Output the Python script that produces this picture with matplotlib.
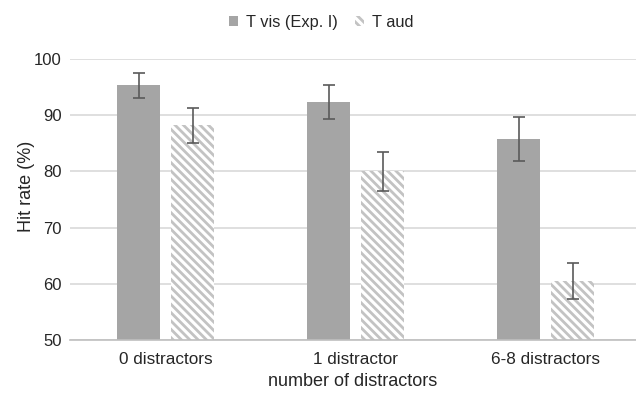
import matplotlib
matplotlib.use("Agg")
import matplotlib.pyplot as plt
import numpy as np

plt.rcParams['font.family'] = ['Liberation Sans', 'DejaVu Sans']
plt.rcParams['hatch.linewidth'] = 2.0

categories = ["0 distractors", "1 distractor", "6-8 distractors"]
series_names = ["T vis (Exp. I)", "T aud"]
vis_values = [95.3, 92.4, 85.8]
vis_errors = [2.2, 3.0, 3.9]
aud_values = [88.2, 80.0, 60.5]
aud_errors = [3.1, 3.4, 3.2]
yticks = [50, 60, 70, 80, 90, 100]

fig = plt.figure(figsize=(6.36, 3.93), dpi=100)
ax = fig.add_axes([70/636, 1 - 340/393, 566/636, 281/393])

x = np.arange(len(categories))
w = 0.226
off = 0.142
ax.bar(x - off, vis_values, w, color='#a5a5a5', label=series_names[0], zorder=2)
ax.bar(x + off, aud_values, w, color='white', edgecolor='#c3c3c3', linewidth=0,
       hatch='\\\\\\\\', label=series_names[1], zorder=2)
ax.errorbar(x - off, vis_values, yerr=vis_errors, fmt='none', ecolor='#5a5a5a',
            elinewidth=1.2, capsize=4, capthick=1.2, zorder=3)
ax.errorbar(x + off, aud_values, yerr=aud_errors, fmt='none', ecolor='#5a5a5a',
            elinewidth=1.2, capsize=4, capthick=1.2, zorder=3)

ax.set_ylim(50, 100)
ax.set_xlim(-0.503, 2.474)
ax.set_yticks(yticks)
ax.set_xticks(x)
ax.set_xticklabels(categories)
ax.yaxis.grid(True, color='#d9d9d9', linewidth=1.2, zorder=0)
ax.set_axisbelow(True)
for s in ['top', 'right', 'left']:
    ax.spines[s].set_visible(False)
ax.spines['bottom'].set_color('#bfbfbf')
ax.spines['bottom'].set_linewidth(1.2)
ax.tick_params(axis='y', length=0, labelsize=12, colors='#262626', pad=6)
ax.tick_params(axis='x', length=0, labelsize=12.3, colors='#262626', pad=9)
ax.set_xlabel("number of distractors", fontsize=13, color='#262626', labelpad=4)
ax.set_ylabel("Hit rate (%)", fontsize=13, color='#262626')
ax.yaxis.set_label_coords(-0.062, 0.545)

leg = fig.legend(loc='upper center', bbox_to_anchor=(0.5055, 1.0), ncol=2, frameon=False,
                 fontsize=11.8, handlelength=0.55, handleheight=0.55, handletextpad=0.5,
                 columnspacing=1.05)
for t in leg.get_texts():
    t.set_color('#262626')

fig.savefig("out.png", dpi=100)
